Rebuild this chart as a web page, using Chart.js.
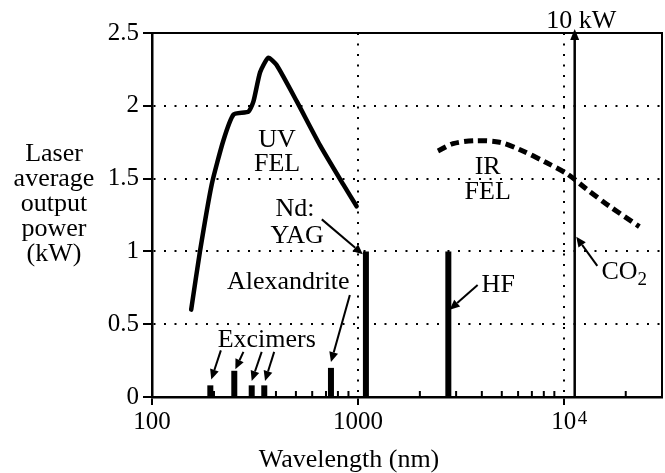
<!DOCTYPE html>
<html>
<head>
<meta charset="utf-8">
<script src="https://cdn.jsdelivr.net/npm/chart.js@4/dist/chart.umd.min.js"></script>
<style>
  html, body { margin: 0; padding: 0; background: #fff; }
  canvas { display: block; }
</style>
</head>
<body>
<canvas id="grafico" width="665" height="473"></canvas>
<script>
// Datos (longitud de onda en nm, potencia en kW)
const uvFelWavelength = [155, 171, 195, 222, 249, 294, 311, 335, 367, 403, 505, 654, 849, 986];
const uvFelPower      = [0.60, 1.00, 1.46, 1.76, 1.94, 1.96, 2.03, 2.23, 2.33, 2.28, 2.03, 1.73, 1.46, 1.31];

const irFelWavelength = [2449, 2898, 3690, 4878, 6095, 8219, 10450, 12840, 16680, 23290];
const irFelPower      = [1.69, 1.74, 1.76, 1.75, 1.70, 1.61, 1.53, 1.43, 1.31, 1.17];

// Lineas laser discretas
const lineNames      = ['ArF', 'KrF', 'XeCl', 'XeF', 'Alexandrite', 'Nd:YAG', 'HF'];
const lineWavelength = [192, 251, 305, 351, 740, 1094, 2750];
const linePower      = [0.08, 0.18, 0.08, 0.08, 0.20, 1.00, 1.00];

const co2Wavelength = 11300;
const co2Power = 10;   // 10 kW, sale del grafico

// Ejes
const yTicks = [0, 0.5, 1, 1.5, 2, 2.5];
const xMajor = [100, 1000, 10000];
const xMinor = [200, 300, 400, 500, 600, 700, 800, 900,
                2000, 3000, 4000, 5000, 6000, 7000, 8000, 9000, 20000];
const xLabels = { 100: '100', 1000: '1000', 10000: '10' };

const FONT = "'Liberation Serif', 'Times New Roman', serif";

// Textos y flechas (en coordenadas de datos)
const notes = [
  { text: 'UV', x: 405, y: 1.72 },
  { text: 'FEL', x: 405, y: 1.55 },
  { text: 'IR', x: 4270, y: 1.53 },
  { text: 'FEL', x: 4270, y: 1.36 },
  { text: 'Nd:', x: 495, y: 1.24 },
  { text: 'YAG', x: 507, y: 1.06 },
  { text: 'Alexandrite', x: 459, y: 0.74 },
  { text: 'Excimers', x: 361, y: 0.34 },
  { text: 'HF', x: 3990, y: 0.72, align: 'left' },
  { text: '10 kW', x: 12170, y: 2.535 }
];
const arrows = [
  [216, 0.32, 194, 0.12],
  [278, 0.31, 254, 0.19],
  [341, 0.31, 305, 0.11],
  [392, 0.31, 354, 0.11],
  [914, 0.70, 740, 0.24],
  [668, 1.22, 1057, 0.98],
  [3817, 0.77, 2792, 0.60],
  [14550, 0.90, 11500, 1.10]
];

function toPoints(xs, ys) {
  return xs.map((v, i) => ({ x: v, y: ys[i] }));
}

const datasets = [
  {
    label: 'UV FEL',
    data: toPoints(uvFelWavelength, uvFelPower),
    borderColor: '#000', borderWidth: 4.5, tension: 0.18,
    pointRadius: 0, borderCapStyle: 'round', borderJoinStyle: 'round'
  },
  {
    label: 'IR FEL',
    data: toPoints(irFelWavelength, irFelPower),
    borderColor: '#000', borderWidth: 5, tension: 0.3,
    borderDash: [9, 5], pointRadius: 0, borderCapStyle: 'butt'
  },
  {
    label: 'CO2',
    data: [{ x: co2Wavelength, y: 0 }, { x: co2Wavelength, y: co2Power }],
    borderColor: '#000', borderWidth: 2.5, pointRadius: 0
  }
];
lineNames.forEach((name, i) => {
  datasets.push({
    label: name,
    data: [{ x: lineWavelength[i], y: 0 }, { x: lineWavelength[i], y: linePower[i] }],
    borderColor: '#000', borderWidth: 6, pointRadius: 0, borderCapStyle: 'butt'
  });
});

function flecha(ctx, x1, y1, x2, y2) {
  const ang = Math.atan2(y2 - y1, x2 - x1);
  const len = 10, half = 4.5;
  const bx = x2 - len * Math.cos(ang), by = y2 - len * Math.sin(ang);
  ctx.beginPath();
  ctx.moveTo(x1, y1);
  ctx.lineTo(bx, by);
  ctx.stroke();
  ctx.beginPath();
  ctx.moveTo(x2, y2);
  ctx.lineTo(bx - half * Math.sin(ang), by + half * Math.cos(ang));
  ctx.lineTo(bx + half * Math.sin(ang), by - half * Math.cos(ang));
  ctx.closePath();
  ctx.fill();
}

const notasPlugin = {
  id: 'notas',
  afterDraw(chart) {
    const { ctx, chartArea: a, scales: { x, y } } = chart;
    ctx.save();
    ctx.strokeStyle = '#000';
    ctx.fillStyle = '#000';

    // marco superior y derecho
    ctx.lineWidth = 2;
    ctx.beginPath();
    ctx.moveTo(a.left, a.top);
    ctx.lineTo(a.right, a.top);
    ctx.lineTo(a.right, a.bottom);
    ctx.stroke();

    // ticks menores hacia dentro
    ctx.beginPath();
    xMinor.forEach(v => {
      const px = x.getPixelForValue(v);
      ctx.moveTo(px, a.bottom);
      ctx.lineTo(px, a.bottom - 6);
    });
    ctx.stroke();

    // flechas
    ctx.lineWidth = 2;
    arrows.forEach(f => {
      flecha(ctx, x.getPixelForValue(f[0]), y.getPixelForValue(f[1]),
                  x.getPixelForValue(f[2]), y.getPixelForValue(f[3]));
    });
    // punta arriba de la linea de CO2
    const cx = x.getPixelForValue(co2Wavelength);
    ctx.beginPath();
    ctx.moveTo(cx, a.top - 4);
    ctx.lineTo(cx - 4.5, a.top + 7);
    ctx.lineTo(cx + 4.5, a.top + 7);
    ctx.closePath();
    ctx.fill();

    // textos
    ctx.font = '26px ' + FONT;
    ctx.textBaseline = 'alphabetic';
    notes.forEach(n => {
      ctx.textAlign = n.align || 'center';
      ctx.fillText(n.text, x.getPixelForValue(n.x), y.getPixelForValue(n.y));
    });
    // CO2 con subindice
    ctx.textAlign = 'left';
    const coX = x.getPixelForValue(15240), coY = y.getPixelForValue(0.81);
    ctx.fillText('CO', coX, coY);
    const w = ctx.measureText('CO').width;
    ctx.font = '19px ' + FONT;
    ctx.fillText('2', coX + w, coY + 6);

    // exponente del 10^4
    ctx.font = '19px ' + FONT;
    ctx.fillText('4', x.getPixelForValue(10000) + 14, a.bottom + 27);

    // titulo eje y (horizontal)
    ctx.font = '26px ' + FONT;
    ctx.textAlign = 'center';
    ['Laser', 'average', 'output', 'power', '(kW)'].forEach((t, i) => {
      ctx.fillText(t, 54, 161 + i * 25);
    });
    // titulo eje x
    ctx.fillText('Wavelength (nm)', 349, 467);
    ctx.restore();
  }
};

new Chart(document.getElementById('grafico').getContext('2d'), {
  type: 'line',
  data: { datasets: datasets },
  options: {
    responsive: false,
    animation: false,
    layout: { padding: { top: 33, right: 3, left: 0, bottom: 0 } },
    plugins: { legend: { display: false }, tooltip: { enabled: false } },
    scales: {
      x: {
        type: 'logarithmic',
        min: 100,
        max: 30000,
        afterBuildTicks: s => { s.ticks = xMajor.concat(xMinor).sort((p, q) => p - q).map(v => ({ value: v })); },
        afterFit: s => { s.height = 76; },
        ticks: {
          autoSkip: false, maxRotation: 0, padding: 2, color: '#000',
          font: { family: FONT, size: 25 },
          callback: v => xLabels[v] || ''
        },
        grid: {
          lineWidth: 2,
          tickLength: 8,
          color: c => (c.tick && (c.tick.value === 1000 || c.tick.value === 10000)) ? '#000' : 'rgba(0,0,0,0)',
          tickColor: c => (c.tick && xMajor.includes(c.tick.value)) ? '#000' : 'rgba(0,0,0,0)',
          tickWidth: 2
        },
        border: { display: true, color: '#000', width: 2.5, dash: [2, 8.5] }
      },
      y: {
        min: 0,
        max: 2.5,
        afterBuildTicks: s => { s.ticks = yTicks.map(v => ({ value: v })); },
        afterFit: s => { s.width = 152; },
        ticks: {
          padding: 4, color: '#000',
          font: { family: FONT, size: 25 },
          callback: v => String(v)
        },
        grid: {
          lineWidth: 2,
          tickLength: 9,
          color: c => (c.tick && c.tick.value > 0 && c.tick.value < 2.5) ? '#000' : 'rgba(0,0,0,0)',
          tickColor: '#000',
          tickWidth: 2
        },
        border: { display: true, color: '#000', width: 2.5, dash: [2, 8.5] }
      }
    }
  },
  plugins: [notasPlugin]
});
</script>
</body>
</html>
